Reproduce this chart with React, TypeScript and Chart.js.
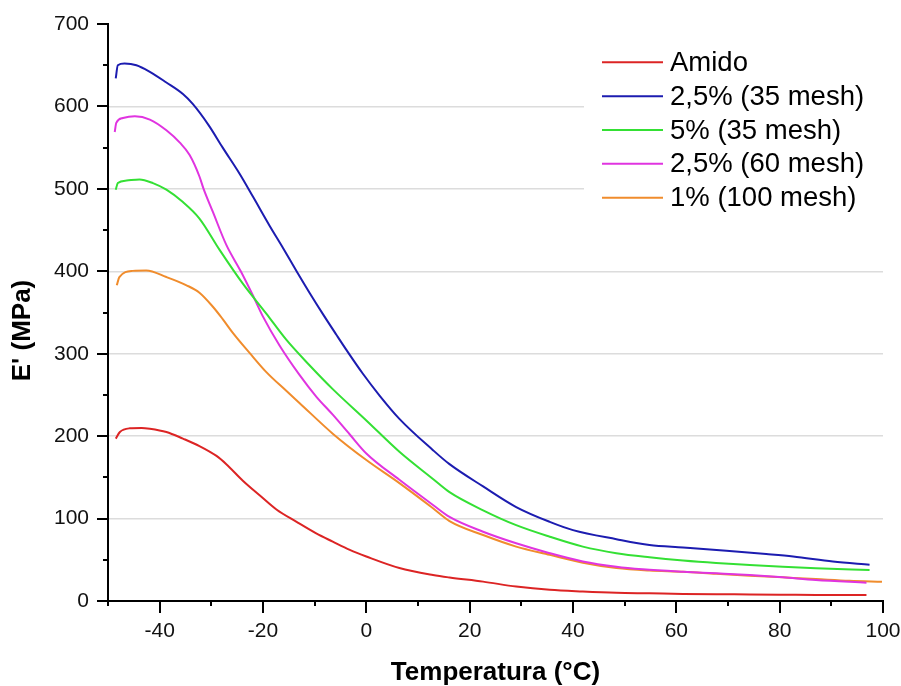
import React, { useEffect, useRef } from 'react';
import { Chart, registerables } from 'chart.js';

Chart.register(...registerables);

// ---- Data ----
const seriesNames = ['Amido', '2,5% (35 mesh)', '5% (35 mesh)', '2,5% (60 mesh)', '1% (100 mesh)'];
const seriesColors = ['#dc2424', '#1c1cb0', '#34e034', '#e034e0', '#f08c2c'];

const amidoTemp = [-48.5, -47.7, -45.8, -43.5, -41.9, -38.7, -35.5, -32.3, -29, -27.1, -23.9, -20.6, -17.4, -13.5, -9.7, -6.5, -3.2, 0, 6.4, 12.9, 16.1, 22.6, 29, 35.5, 41.9, 48.4, 54.8, 61.3, 67.7, 74.2, 80.6, 87, 96.8];
const amidoE = [197, 205, 209.5, 210, 209, 205, 197, 188, 176, 166, 146, 128, 111, 96, 82, 72, 62, 54, 40, 31.5, 28.5, 23.5, 17.5, 13.5, 11.5, 10, 9.3, 8.5, 8.1, 8, 7.7, 7.3, 7.2];

const m35_25Temp = [-48.5, -48.1, -46.8, -44.5, -41.9, -38.7, -35.5, -33.6, -30.5, -27.8, -24.5, -21.9, -18.7, -16.1, -13.5, -11, -8.4, -5.8, -3.9, -0.7, 2.6, 6.4, 12.9, 16.1, 22.6, 29, 35.5, 40, 48.4, 54.8, 61.3, 69.7, 77.4, 82.6, 90.3, 97.4];
const m35_25E = [634, 650, 652, 650, 642, 629, 615, 603, 577, 550, 518, 490, 455, 428, 400, 374, 348, 323, 305, 276, 249, 221, 183, 166, 139, 114, 96, 86, 75, 68, 65, 61, 57, 54, 48, 44];

const m35_5Temp = [-48.5, -48.1, -46.4, -43.9, -41.3, -38.7, -35.5, -32.3, -28.4, -23.9, -19.4, -15.5, -11, -6.5, 0, 6.4, 12.9, 16.1, 22.6, 29, 35.5, 41.9, 48.4, 54.8, 61.3, 67.7, 74.2, 80.6, 87, 97.4];
const m35_5E = [499, 507, 510, 511.5, 507, 499, 484, 464, 426, 385, 349, 317, 286, 257, 219, 181, 148, 132, 110, 92, 78, 66, 58, 53, 49, 46, 43.7, 41.6, 39.7, 37.6];

const m60_25Temp = [-48.7, -48.4, -47.1, -44.8, -41.9, -38.7, -36.1, -34.2, -32.3, -31.5, -29.7, -27.1, -24.3, -21.9, -20, -16.8, -12.9, -9.7, -6.5, -3.2, 0, 6.4, 12.9, 16.1, 22.6, 29, 35.5, 41.9, 48.4, 53.5, 61.3, 67.7, 74.2, 80.6, 87, 96.8];
const m60_25E = [569, 580, 586, 588, 584, 571, 556, 541, 515, 500, 472, 432, 400, 370, 345, 310, 274, 248, 226, 202, 179, 147, 116.5, 102, 84, 70, 58, 48, 41.6, 38.5, 35.5, 33.6, 31.5, 28.7, 25.5, 22.2];

const m100_1Temp = [-48.3, -47.8, -45.2, -42.6, -38.7, -34.8, -32.3, -29.7, -27.8, -25.8, -22.6, -19.4, -15.5, -12.9, -6.5, 0, 6.4, 12.9, 16.1, 22.6, 29, 35.5, 41.9, 48.4, 54.8, 61.3, 67.7, 74.2, 80.6, 87, 93.5, 99.8];
const m100_1E = [383, 393, 400.5, 401, 393, 383, 374, 357, 342, 325, 301, 278, 255, 240, 203, 171, 143, 112.5, 97, 80, 66, 56, 46.5, 40, 37, 35.5, 33, 30.7, 28.7, 26.7, 24.6, 23.4];

const seriesTemps = [amidoTemp, m35_25Temp, m35_5Temp, m60_25Temp, m100_1Temp];
const seriesValues = [amidoE, m35_25E, m35_5E, m60_25E, m100_1E];

const xTickLabels = [-40, -20, 0, 20, 40, 60, 80, 100];
const yTickLabels = [0, 100, 200, 300, 400, 500, 600, 700];
const xTitle = 'Temperatura (°C)';
const yTitle = "E' (MPa)";

const FONT = '"Liberation Sans", Arial, sans-serif';

const axisDecorPlugin = {
  id: 'axisDecor',
  afterDraw(chart: any) {
    const { ctx } = chart;
    const xs = chart.scales.x;
    const ys = chart.scales.y;
    ctx.save();
    ctx.strokeStyle = '#000';
    ctx.lineWidth = 2;
    ctx.beginPath();
    xs.ticks.forEach((t: any) => {
      const px = Math.round(xs.getPixelForValue(t.value));
      const len = xTickLabels.includes(t.value) ? 12 : 5;
      ctx.moveTo(px, xs.top);
      ctx.lineTo(px, xs.top + len);
    });
    ys.ticks.forEach((t: any) => {
      const py = Math.round(ys.getPixelForValue(t.value));
      const len = yTickLabels.includes(t.value) ? 11 : 5;
      ctx.moveTo(ys.right, py);
      ctx.lineTo(ys.right - len, py);
    });
    ctx.stroke();
    ctx.translate(23, (ys.top + ys.bottom) / 2 + 18);
    ctx.rotate(-Math.PI / 2);
    ctx.font = 'bold 26px ' + FONT;
    ctx.textAlign = 'center';
    ctx.textBaseline = 'middle';
    ctx.fillStyle = '#000';
    ctx.fillText(yTitle, 0, 0);
    ctx.restore();
  },
};

const insetLegendPlugin = {
  id: 'insetLegend',
  beforeDatasetsDraw(chart: any) {
    const { ctx, chartArea } = chart;
    const boxW = 299;
    const boxLeft = chartArea.right - boxW;
    const boxTop = chartArea.top + 16;
    ctx.save();
    ctx.fillStyle = '#fff';
    ctx.fillRect(boxLeft, boxTop, boxW, 175);
    ctx.font = '27.5px ' + FONT;
    ctx.textBaseline = 'middle';
    ctx.textAlign = 'left';
    chart.data.datasets.forEach((ds: any, i: number) => {
      const y = chartArea.top + 38.3 + i * 33.85;
      ctx.strokeStyle = ds.borderColor;
      ctx.lineWidth = 2;
      ctx.beginPath();
      ctx.moveTo(boxLeft + 18, y);
      ctx.lineTo(boxLeft + 79, y);
      ctx.stroke();
      ctx.fillStyle = '#000';
      ctx.fillText(ds.label, boxLeft + 86, y + 1);
    });
    ctx.restore();
  },
};

export default function App() {
  const canvasRef = useRef<HTMLCanvasElement | null>(null);

  useEffect(() => {
    const canvas = canvasRef.current;
    if (!canvas) return;
    const datasets = seriesNames.map((name, i) => ({
      label: name,
      data: seriesTemps[i].map((t, j) => ({ x: t, y: seriesValues[i][j] })),
      borderColor: seriesColors[i],
      backgroundColor: seriesColors[i],
      borderWidth: 2,
      pointRadius: 0,
      fill: false,
      cubicInterpolationMode: 'monotone' as const,
    }));

    const chart = new Chart(canvas, {
      type: 'line',
      data: { datasets },
      options: {
        responsive: false,
        animation: false,
        layout: { padding: { left: 0, right: 18, top: 24, bottom: 0 } },
        plugins: {
          legend: { display: false },
          tooltip: { enabled: false },
        },
        scales: {
          x: {
            type: 'linear',
            min: -50,
            max: 100,
            afterFit: (s: any) => {
              s.height = 85;
              s.paddingLeft = 0;
              s.paddingRight = 0;
            },
            ticks: {
              stepSize: 10,
              autoSkip: false,
              maxRotation: 0,
              minRotation: 0,
              maxTicksLimit: 100,
              padding: 18,
              color: '#111',
              font: { family: FONT, size: 21 },
              callback: (v: any) => (xTickLabels.includes(Number(v)) ? String(v) : ''),
            },
            grid: { display: true, drawOnChartArea: false, drawTicks: false },
            border: { display: true, color: '#000', width: 2 },
            title: {
              display: true,
              text: xTitle,
              color: '#000',
              font: { family: FONT, size: 26, weight: 'bold', lineHeight: 1 },
              padding: { top: 0, bottom: 0 },
            },
          },
          y: {
            type: 'linear',
            min: 0,
            max: 700,
            afterFit: (s: any) => {
              s.width = 108;
              s.paddingTop = 0;
              s.paddingBottom = 0;
            },
            ticks: {
              stepSize: 50,
              autoSkip: false,
              maxTicksLimit: 100,
              padding: 19,
              color: '#111',
              font: { family: FONT, size: 21 },
              callback: (v: any) => (yTickLabels.includes(Number(v)) ? String(v) : ''),
            },
            grid: {
              display: true,
              drawTicks: false,
              lineWidth: 1.5,
              color: (c: any) => {
                const v = c.tick ? c.tick.value : null;
                return v !== null && v % 100 === 0 && v !== 0 && v !== 700 ? '#dcdcdc' : 'rgba(0,0,0,0)';
              },
            },
            border: { display: true, color: '#000', width: 2 },
          },
        },
      },
      plugins: [axisDecorPlugin, insetLegendPlugin],
    });
    return () => chart.destroy();
  }, []);

  return (
    <div style={{ position: 'absolute', left: 0, top: 0, width: 901, height: 686, background: '#fff' }}>
      <canvas ref={canvasRef} width={901} height={686} style={{ display: 'block' }} />
    </div>
  );
}
